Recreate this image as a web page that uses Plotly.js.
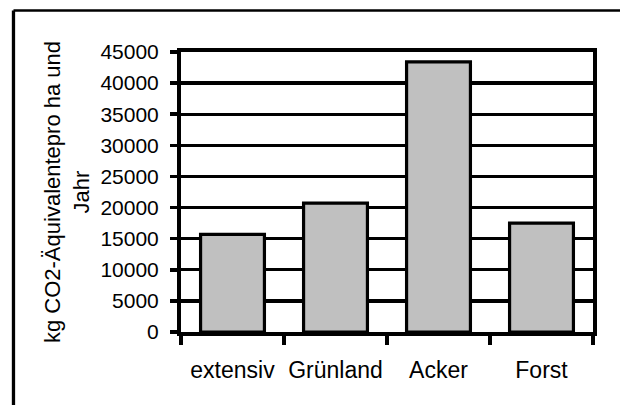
<!DOCTYPE html>
<html>
<head>
<meta charset="utf-8">
<script src="https://cdn.plot.ly/plotly-3.0.1.min.js"></script>
<style>
  html, body { margin: 0; padding: 0; background: #ffffff; }
  #chart { width: 620px; height: 405px; }
</style>
</head>
<body>
<div id="chart"></div>
<script>
const categories = ["extensiv", "Grünland", "Acker", "Forst"];
const values = [15700, 20700, 43400, 17500];
const yTickValues = [0, 5000, 10000, 15000, 20000, 25000, 30000, 35000, 40000, 45000];
const yTitle = "kg CO2-Äquivalentepro ha und<br>Jahr";

const FONT = "Liberation Sans, Arial, sans-serif";

const trace = {
  type: "bar",
  x: categories,
  y: values,
  marker: { color: "#c0c0c0", line: { color: "#000000", width: 3.2 } },
  hoverinfo: "skip"
};

const layout = {
  width: 620,
  height: 405,
  margin: { l: 181, r: 27, t: 52, b: 73, pad: 0 },
  paper_bgcolor: "#ffffff",
  plot_bgcolor: "#ffffff",
  showlegend: false,
  bargap: 0.38,
  font: { family: FONT, color: "#000000", size: 21 },
  xaxis: {
    type: "category",
    showgrid: false,
    showline: true,
    linecolor: "#000000",
    linewidth: 4,
    mirror: true,
    ticks: "outside",
    tickson: "boundaries",
    ticklen: 9,
    tickwidth: 3.5,
    tickcolor: "#000000",
    tickangle: 0,
    tickfont: { family: FONT, size: 23, color: "#000000" },
    ticklabelstandoff: 14,
    automargin: false
  },
  yaxis: {
    range: [0, 45000],
    tickvals: yTickValues,
    ticktext: yTickValues.map(String),
    showgrid: true,
    gridcolor: "#000000",
    gridwidth: 3.4,
    zeroline: false,
    showline: true,
    linecolor: "#000000",
    linewidth: 4,
    mirror: true,
    ticks: "outside",
    ticklen: 7,
    tickwidth: 3.5,
    tickcolor: "#000000",
    tickfont: { family: FONT, size: 21, color: "#000000" },
    ticklabelstandoff: 7,
    automargin: false,
    title: { text: yTitle, font: { family: FONT, size: 22, color: "#000000" }, standoff: 6 }
  },
  shapes: [
    { type: "line", xref: "paper", yref: "paper", x0: -0.4066, x1: 1.1, y0: 1.1482, y1: 1.1482,
      line: { color: "#000000", width: 2.7 } },
    { type: "line", xref: "paper", yref: "paper", x0: -0.4066, x1: -0.4066, y0: 1.1482, y1: -0.3,
      line: { color: "#000000", width: 3.3 } }
  ]
};

Plotly.newPlot("chart", [trace], layout, { staticPlot: true, displayModeBar: false });
</script>
</body>
</html>
